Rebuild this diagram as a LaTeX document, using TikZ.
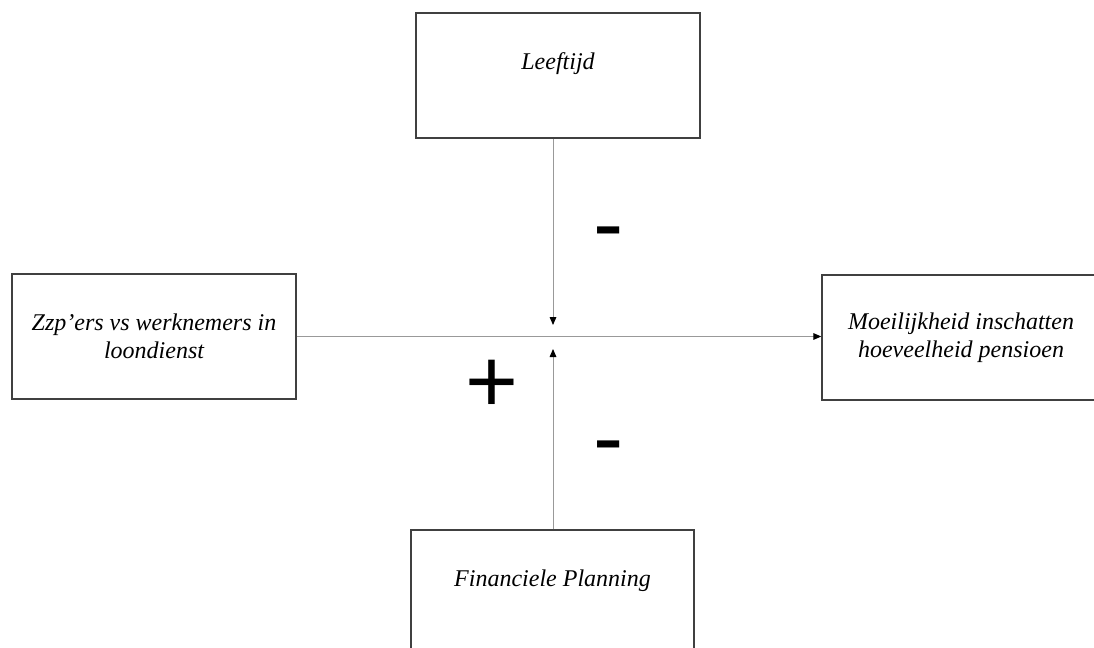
\documentclass[tikz,border=0pt]{standalone}
\usepackage{fontspec}
\setmainfont{Liberation Serif}
\newfontfamily\signfont{Liberation Sans}
\usetikzlibrary{arrows.meta}
\tikzset{
  box/.style={draw=black!75, line width=1.1pt, rectangle, inner sep=0pt,
    font=\fontsize{18}{21}\selectfont\itshape, align=center},
  lbl/.style={inner sep=0pt, font=\fontsize{18}{21}\selectfont\itshape},
  conn/.style={draw=black!40, line width=0.75pt,
    -{Triangle[length=6pt,width=5pt,color=black]}},
  sign/.style={inner sep=0pt, anchor=base}
}
\begin{document}
\begin{tikzpicture}[x=0.75pt,y=-0.75pt]
\useasboundingbox (0,0) rectangle (1094,648);
\clip (0,0) rectangle (1094,648);
% boxes
\node[box, minimum width=213pt, minimum height=93.75pt] (age) at (558,75.5) {};
\node[lbl] (agetext) at (558,64) {Leeftijd};
\node[box, minimum width=213pt, minimum height=93.75pt] (zzp) at (154,336.5)
  {Zzp’ers vs werknemers in\\loondienst};
\node[box, minimum width=208.5pt, minimum height=93.75pt] (pens) at (961,337.5)
  {Moeilijkheid inschatten\\hoeveelheid pensioen};
\node[box, minimum width=212.25pt, minimum height=97.5pt] (plan) at (552.5,595) {};
\node[lbl] (plantext) at (552.5,581) {Financiele Planning};
% arrow tips
\coordinate (tipdown) at (553,325);
\coordinate (tipup) at (553,349);
% connectors
\draw[conn] (zzp.east) -- (zzp.east -| pens.west);
\draw[conn] (age.south -| tipdown) -- (tipdown);
\draw[conn] (plan.north -| tipup) -- (tipup);
% signs
\node[sign, font=\signfont\fontsize{68}{68}\selectfont] (minus1) at (609,254.5) {-};
\node[sign, font=\signfont\fontsize{68}{68}\selectfont] (plus) at (492,412) {+};
\node[sign, font=\signfont\fontsize{68}{68}\selectfont] (minus2) at (609,468.5) {-};
\end{tikzpicture}
\end{document}
